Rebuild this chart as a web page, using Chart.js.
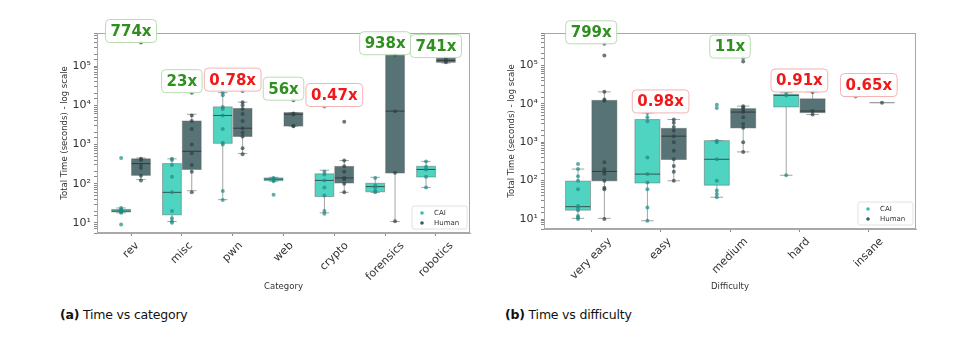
<!DOCTYPE html>
<html>
<head>
<meta charset="utf-8">
<script src="https://cdn.jsdelivr.net/npm/chart.js@4.4.0/dist/chart.umd.min.js"></script>
<style>
  body { margin: 0; background: #fff; width: 977px; height: 340px; position: relative; overflow: hidden; font-family: "DejaVu Sans", sans-serif; }
  .wrap { position: absolute; top: 0; }
  .cap { position: absolute; top: 307px; font-size: 12.5px; color: #111; letter-spacing: -0.2px; }
</style>
</head>
<body>
<div class="wrap" style="left:0px"><canvas id="catChart" width="490" height="296"></canvas></div>
<div class="wrap" style="left:447px"><canvas id="diffChart" width="489" height="296"></canvas></div>
<div class="cap" style="left:60px"><b>(a)</b> Time vs category</div>
<div class="cap" style="left:505px"><b>(b)</b> Time vs difficulty</div>

<script>
// ---- data: (a) time vs category ----
var categories = ['rev', 'misc', 'pwn', 'web', 'crypto', 'forensics', 'robotics'];
var catRatios = ['774x', '23x', '0.78x', '56x', '0.47x', '938x', '741x'];
// box stats: [low whisker, q1, median, q3, high whisker]
var catBoxCAI = [
    [18, 19, 20, 22, 24],
    [10.8, 16, 60, 325, 430],
    [39, 1070, 5500, 9100, 21000],
    [115, 120, 130, 140, 145],
    [18, 47, 121, 178, 220],
    [60, 62, 84, 102, 145],
    [80, 148, 230, 277, 370]
];
var catBoxHuman = [
    [127, 163, 325, 430, 450],
    [66, 230, 670, 3960, 5900],
    [590, 1600, 2600, 8300, 12000],
    [2950, 2950, 5900, 6500, 6500],
    [60, 104, 140, 275, 390],
    [10.8, 187, 7100, 195000, 195000],
    [120000, 125000, 140000, 160000, 165000]
];
var catPtsCAI = [
    [9, 18, 19, 20, 20, 21, 22, 24, 450],
    [10, 11, 13, 20, 60, 150, 300, 400, 430],
    [38, 65, 1000, 1100, 2500, 5500, 8000, 9000, 18000, 21000],
    [52, 115, 125, 130, 140],
    [17, 20, 50, 80, 120, 170, 200, 9300],
    [60, 65, 80, 90, 140],
    [80, 150, 230, 270, 370]
];
var catPtsHuman = [
    [120, 160, 250, 300, 400, 430, 400000],
    [60, 200, 300, 600, 1000, 2500, 4000, 5500, 21000],
    [560, 800, 1600, 2000, 2600, 4000, 6000, 8000, 10000, 12000, 23000],
    [2900, 3000, 5800, 6200, 13500],
    [60, 100, 130, 140, 200, 280, 390, 3800],
    [11, 190, 7000, 195000],
    [125000, 140000, 160000]
];

// ---- data: (b) time vs difficulty ----
var difficulties = ['very easy', 'easy', 'medium', 'hard', 'insane'];
var diffRatios = ['799x', '0.98x', '11x', '0.91x', '0.65x'];
var diffBoxCAI = [
    [10.4, 17, 21, 97, 200],
    [9, 87, 148, 3900, 5800],
    [37, 76, 360, 1100, 1100],
    [138, 8300, 16600, 17700, 19500],
    [15500, 15500, 15500, 15500, 15500]
];
var diffBoxHuman = [
    [10.4, 99, 174, 12300, 20500],
    [99, 355, 1440, 2300, 3900],
    [560, 2360, 6100, 7500, 8700],
    [5250, 5900, 6500, 13500, 20400],
    [10700, 10700, 10700, 10700, 10700]
];
var diffPtsCAI = [
    [10, 11, 12, 17, 20, 22, 60, 100, 130, 200, 270],
    [9, 20, 60, 90, 148, 400, 3500, 4500, 5800],
    [37, 45, 55, 100, 360, 1000, 1100, 7800, 9500],
    [138, 16600, 19500],
    [15500]
];
var diffPtsHuman = [
    [10, 60, 65, 100, 150, 174, 200, 300, 12000, 13000, 20500, 182000, 366000],
    [100, 170, 240, 360, 600, 1000, 1440, 2000, 2500, 3200, 3900],
    [560, 1000, 2400, 3000, 4500, 6100, 7000, 8000, 8700, 127000, 156000],
    [5300, 6500, 20400],
    [10700]
];

var CAI_FILL = '#50d4c2', HUMAN_FILL = '#587375';
var CAI_DOT = 'rgba(28,140,134,0.7)', HUMAN_DOT = 'rgba(44,66,68,0.7)';
var sup = ['⁰', '¹', '²', '³', '⁴', '⁵', '⁶'];

function toPoints(pts, off) {
    var out = [];
    pts.forEach(function (list, i) {
        list.forEach(function (v) { out.push({ x: i + off, y: v }); });
    });
    return out;
}

function makePlugin(labels, ratios, boxCAI, boxHuman, ptsCAI, ptsHuman, bw) {
    function drawBox(ctx, xs, ys, cx, st, fill) {
        var x0 = xs.getPixelForValue(cx - bw / 2), x1 = xs.getPixelForValue(cx + bw / 2);
        var xm = xs.getPixelForValue(cx);
        var lo = ys.getPixelForValue(st[0]), q1 = ys.getPixelForValue(st[1]);
        var md = ys.getPixelForValue(st[2]), q3 = ys.getPixelForValue(st[3]);
        var hi = ys.getPixelForValue(st[4]);
        var cap = (x1 - x0) / 4;
        ctx.strokeStyle = 'rgba(90,90,90,0.55)';
        ctx.lineWidth = 1;
        ctx.beginPath();
        ctx.moveTo(xm, q1); ctx.lineTo(xm, lo);
        ctx.moveTo(xm, q3); ctx.lineTo(xm, hi);
        if (hi - lo !== 0) {
            ctx.moveTo(xm - cap, lo); ctx.lineTo(xm + cap, lo);
            ctx.moveTo(xm - cap, hi); ctx.lineTo(xm + cap, hi);
        }
        ctx.stroke();
        ctx.fillStyle = fill;
        ctx.fillRect(x0, q3, x1 - x0, q1 - q3);
        ctx.strokeStyle = 'rgba(90,90,90,0.45)';
        ctx.strokeRect(x0, q3, x1 - x0, q1 - q3);
        if (q1 - q3 > 1) {
            ctx.strokeStyle = 'rgba(40,40,40,0.75)';
            ctx.beginPath();
            ctx.moveTo(x0, md); ctx.lineTo(x1, md);
            ctx.stroke();
        }
    }
    return {
        id: 'boxes',
        beforeDatasetsDraw: function (chart) {
            var ctx = chart.ctx, xs = chart.scales.x, ys = chart.scales.y;
            ctx.save();
            for (var i = 0; i < labels.length; i++) {
                drawBox(ctx, xs, ys, i - bw / 2 - 0.01, boxCAI[i], CAI_FILL);
                drawBox(ctx, xs, ys, i + bw / 2 + 0.01, boxHuman[i], HUMAN_FILL);
            }
            ctx.restore();
        },
        afterDraw: function (chart) {
            var ctx = chart.ctx, xs = chart.scales.x, ys = chart.scales.y;
            var a = chart.chartArea;
            ctx.save();
            // frame
            ctx.strokeStyle = '#a8a8a8';
            ctx.lineWidth = 1;
            ctx.strokeRect(a.left + 0.5, a.top + 0.5, a.right - a.left - 1, a.bottom - a.top - 1);

            // rotated category labels
            ctx.font = '11px "DejaVu Sans"';
            ctx.fillStyle = '#333';
            ctx.textAlign = 'center';
            ctx.textBaseline = 'middle';
            for (var i = 0; i < labels.length; i++) {
                var w = ctx.measureText(labels[i]).width;
                var px = xs.getPixelForValue(i);
                var py = a.bottom + 7 + (w + 11) * 0.3536;
                ctx.save();
                ctx.translate(px, py);
                ctx.rotate(-Math.PI / 4);
                ctx.fillText(labels[i], 0, 0);
                ctx.restore();
            }

            // ratio tags
            ctx.font = 'bold 15px "DejaVu Sans"';
            for (var j = 0; j < labels.length; j++) {
                var all = ptsCAI[j].concat(ptsHuman[j], boxCAI[j], boxHuman[j]);
                var top = ys.getPixelForValue(Math.max.apply(null, all));
                var good = parseFloat(ratios[j]) >= 1;
                var tw = ctx.measureText(ratios[j]).width;
                var bwid = tw + 10, bh = 23;
                var cx = xs.getPixelForValue(j);
                ctx.beginPath();
                ctx.roundRect(cx - bwid / 2, top - bh, bwid, bh, 4);
                ctx.fillStyle = 'rgba(255,255,255,0.9)';
                ctx.fill();
                ctx.strokeStyle = good ? '#b8dcb2' : '#f5b3b3';
                ctx.stroke();
                ctx.fillStyle = good ? '#2f8f1f' : '#f01818';
                ctx.fillText(ratios[j], cx, top - bh / 2 + 1);
            }

            // legend
            var lw = 55, lh = 23;
            var lx = a.right - 3 - lw, ly = a.bottom - 4 - lh;
            ctx.beginPath();
            ctx.roundRect(lx, ly, lw, lh, 2);
            ctx.fillStyle = 'rgba(255,255,255,0.85)';
            ctx.fill();
            ctx.strokeStyle = '#e2e2e2';
            ctx.stroke();
            ctx.font = '7px "DejaVu Sans"';
            ctx.textAlign = 'left';
            [['CAI', '#35c0b2'], ['Human', '#3b5a5c']].forEach(function (it, k) {
                var yy = ly + 7 + k * 10;
                ctx.fillStyle = it[1];
                ctx.beginPath();
                ctx.arc(lx + 10, yy, 1.8, 0, Math.PI * 2);
                ctx.fill();
                ctx.fillStyle = '#333';
                ctx.fillText(it[0], lx + 22, yy);
            });
            ctx.restore();
        }
    };
}

function makeChart(id, labels, ratios, boxCAI, boxHuman, ptsCAI, ptsHuman, xTitle, xPad, axisH, bw) {
    var ctx = document.getElementById(id).getContext('2d');
    return new Chart(ctx, {
        type: 'scatter',
        data: {
            datasets: [{
                label: 'CAI',
                data: toPoints(ptsCAI, -bw / 2 - 0.01),
                backgroundColor: CAI_DOT,
                borderColor: CAI_DOT,
                pointRadius: 2,
                borderWidth: 0
            }, {
                label: 'Human',
                data: toPoints(ptsHuman, bw / 2 + 0.01),
                backgroundColor: HUMAN_DOT,
                borderColor: HUMAN_DOT,
                pointRadius: 2,
                borderWidth: 0
            }]
        },
        options: {
            responsive: false,
            animation: false,
            layout: { padding: { left: 56, right: 20, top: 33, bottom: 0 } },
            plugins: {
                legend: { display: false },
                tooltip: { enabled: false }
            },
            scales: {
                x: {
                    type: 'linear',
                    min: -xPad,
                    max: labels.length - 1 + xPad,
                    afterFit: function (s) { s.height = axisH; },
                    border: { display: true, color: '#a8a8a8' },
                    grid: { drawOnChartArea: false, drawTicks: true, tickLength: 3, color: '#888' },
                    ticks: {
                        stepSize: 1,
                        includeBounds: false,
                        autoSkip: false,
                        maxRotation: 0,
                        callback: function () { return ''; }
                    },
                    title: {
                        display: true,
                        text: xTitle,
                        color: '#333',
                        font: { family: 'DejaVu Sans', size: 8.5 },
                        padding: { top: 0, bottom: 4 }
                    }
                },
                y: {
                    type: 'logarithmic',
                    min: 5.5,
                    max: 700000,
                    afterFit: function (s) { s.width = 41; },
                    border: { display: true, color: '#a8a8a8' },
                    grid: { drawOnChartArea: false, drawTicks: true, tickLength: 3, color: '#888' },
                    ticks: {
                        autoSkip: false,
                        color: '#333',
                        padding: 3,
                        font: { family: 'DejaVu Sans', size: 11 },
                        callback: function (v) {
                            var l = Math.log10(v);
                            if (Math.abs(l - Math.round(l)) < 1e-9) return '10' + sup[Math.round(l)];
                            return '';
                        }
                    },
                    title: {
                        display: true,
                        text: 'Total Time (seconds) - log scale',
                        color: '#333',
                        font: { family: 'DejaVu Sans', size: 8.5 },
                        padding: { top: 4, bottom: 0 }
                    }
                }
            }
        },
        plugins: [makePlugin(labels, ratios, boxCAI, boxHuman, ptsCAI, ptsHuman, bw)]
    });
}

makeChart('catChart', categories, catRatios, catBoxCAI, catBoxHuman, catPtsCAI, catPtsHuman, 'Category', 0.67, 63, 0.37);
makeChart('diffChart', difficulties, diffRatios, diffBoxCAI, diffBoxHuman, diffPtsCAI, diffPtsHuman, 'Difficulty', 0.68, 67, 0.36);
</script>
</body>
</html>
